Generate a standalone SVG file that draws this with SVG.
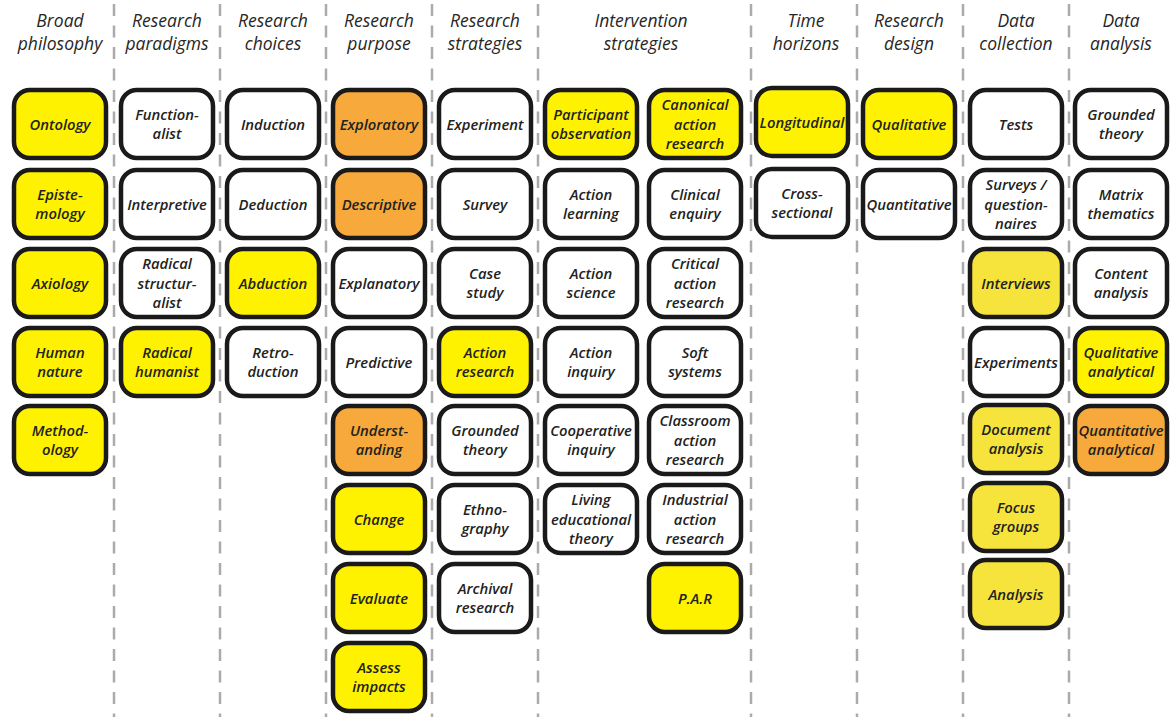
<svg xmlns="http://www.w3.org/2000/svg" width="1172" height="717" viewBox="0 0 1172 717">
  <style>
    .bg { fill: #ffffff; }
    .divider { stroke: #ababab; stroke-width: 2.5; stroke-dasharray: 12 9.5; fill: none; }
    .head { font-family: "Open Sans", "Liberation Sans", sans-serif; font-style: italic; font-weight: 500; font-size: 17.5px; fill: #262626; text-anchor: middle; }
    .node rect { stroke: #1a1a1a; stroke-width: 4.5; }
    .node text { font-family: "Open Sans", "Liberation Sans", sans-serif; font-style: italic; font-weight: 650; font-size: 14.8px; fill: #222222; text-anchor: middle; }
    .y rect { fill: #fff200; }
    .y2 rect { fill: #f6e43c; }
    .o rect { fill: #f7a93b; }
    .w rect { fill: #ffffff; }
  </style>

  <rect class="bg" x="0" y="0" width="1172" height="717"/>

  <!-- column dividers -->
  <g id="connectors">
    <line class="divider" x1="114" y1="4" x2="114" y2="717"/>
    <line class="divider" x1="220" y1="4" x2="220" y2="717"/>
    <line class="divider" x1="326" y1="4" x2="326" y2="717"/>
    <line class="divider" x1="432" y1="4" x2="432" y2="717"/>
    <line class="divider" x1="538" y1="4" x2="538" y2="717"/>
    <line class="divider" x1="751" y1="4" x2="751" y2="717"/>
    <line class="divider" x1="857" y1="4" x2="857" y2="717"/>
    <line class="divider" x1="963" y1="4" x2="963" y2="717"/>
    <line class="divider" x1="1069" y1="4" x2="1069" y2="717"/>
  </g>

  <!-- column headings -->
  <g id="headings">
    <text class="head" x="60" y="27">Broad<tspan x="60" y="50">philosophy</tspan></text>
    <text class="head" x="167" y="27">Research<tspan x="167" y="50">paradigms</tspan></text>
    <text class="head" x="273" y="27">Research<tspan x="273" y="50">choices</tspan></text>
    <text class="head" x="379" y="27">Research<tspan x="379" y="50">purpose</tspan></text>
    <text class="head" x="485" y="27">Research<tspan x="485" y="50">strategies</tspan></text>
    <text class="head" x="641" y="27">Intervention<tspan x="641" y="50">strategies</tspan></text>
    <text class="head" x="806" y="27">Time<tspan x="806" y="50">horizons</tspan></text>
    <text class="head" x="909" y="27">Research<tspan x="909" y="50">design</tspan></text>
    <text class="head" x="1016" y="27">Data<tspan x="1016" y="50">collection</tspan></text>
    <text class="head" x="1121" y="27">Data<tspan x="1121" y="50">analysis</tspan></text>
  </g>

  <!-- Broad philosophy -->
  <g id="n-ontology" class="node y"><rect x="14" y="90" width="92" height="68" rx="16"/><text x="60" y="129.5">Ontology</text></g>
  <g id="n-epistemology" class="node y"><rect x="14" y="170" width="92" height="68" rx="16"/><text x="60" y="200">Episte-<tspan x="60" y="219">mology</tspan></text></g>
  <g id="n-axiology" class="node y"><rect x="14" y="249" width="92" height="68" rx="16"/><text x="60" y="288.5">Axiology</text></g>
  <g id="n-human-nature" class="node y"><rect x="14" y="328" width="92" height="68" rx="16"/><text x="60" y="358">Human<tspan x="60" y="377">nature</tspan></text></g>
  <g id="n-methodology" class="node y"><rect x="14" y="406" width="92" height="68" rx="16"/><text x="60" y="436">Method-<tspan x="60" y="455">ology</tspan></text></g>

  <!-- Research paradigms -->
  <g id="n-functionalist" class="node w"><rect x="121" y="90" width="92" height="68" rx="16"/><text x="167" y="120">Function-<tspan x="167" y="139">alist</tspan></text></g>
  <g id="n-interpretive" class="node w"><rect x="121" y="170" width="92" height="68" rx="16"/><text x="167" y="209.5">Interpretive</text></g>
  <g id="n-radical-structuralist" class="node w"><rect x="121" y="249" width="92" height="68" rx="16"/><text x="167" y="269">Radical<tspan x="167" y="288.5">structur-</tspan><tspan x="167" y="308">alist</tspan></text></g>
  <g id="n-radical-humanist" class="node y"><rect x="121" y="328" width="92" height="68" rx="16"/><text x="167" y="358">Radical<tspan x="167" y="377">humanist</tspan></text></g>

  <!-- Research choices -->
  <g id="n-induction" class="node w"><rect x="227" y="90" width="92" height="68" rx="16"/><text x="273" y="129.5">Induction</text></g>
  <g id="n-deduction" class="node w"><rect x="227" y="170" width="92" height="68" rx="16"/><text x="273" y="209.5">Deduction</text></g>
  <g id="n-abduction" class="node y"><rect x="227" y="249" width="92" height="68" rx="16"/><text x="273" y="288.5">Abduction</text></g>
  <g id="n-retroduction" class="node w"><rect x="227" y="328" width="92" height="68" rx="16"/><text x="273" y="358">Retro-<tspan x="273" y="377">duction</tspan></text></g>

  <!-- Research purpose -->
  <g id="n-exploratory" class="node o"><rect x="333" y="90" width="92" height="68" rx="16"/><text x="379" y="129.5">Exploratory</text></g>
  <g id="n-descriptive" class="node o"><rect x="333" y="170" width="92" height="68" rx="16"/><text x="379" y="209.5">Descriptive</text></g>
  <g id="n-explanatory" class="node w"><rect x="333" y="249" width="92" height="68" rx="16"/><text x="379" y="288.5">Explanatory</text></g>
  <g id="n-predictive" class="node w"><rect x="333" y="328" width="92" height="68" rx="16"/><text x="379" y="367.5">Predictive</text></g>
  <g id="n-understanding" class="node o"><rect x="333" y="406" width="92" height="68" rx="16"/><text x="379" y="436">Underst-<tspan x="379" y="455">anding</tspan></text></g>
  <g id="n-change" class="node y"><rect x="333" y="485" width="92" height="68" rx="16"/><text x="379" y="524.5">Change</text></g>
  <g id="n-evaluate" class="node y"><rect x="333" y="564" width="92" height="68" rx="16"/><text x="379" y="603.5">Evaluate</text></g>
  <g id="n-assess-impacts" class="node y"><rect x="333" y="643" width="92" height="68" rx="16"/><text x="379" y="673">Assess<tspan x="379" y="692">impacts</tspan></text></g>

  <!-- Research strategies -->
  <g id="n-experiment" class="node w"><rect x="439" y="90" width="92" height="68" rx="16"/><text x="485" y="129.5">Experiment</text></g>
  <g id="n-survey" class="node w"><rect x="439" y="170" width="92" height="68" rx="16"/><text x="485" y="209.5">Survey</text></g>
  <g id="n-case-study" class="node w"><rect x="439" y="249" width="92" height="68" rx="16"/><text x="485" y="279">Case<tspan x="485" y="298">study</tspan></text></g>
  <g id="n-action-research" class="node y"><rect x="439" y="328" width="92" height="68" rx="16"/><text x="485" y="358">Action<tspan x="485" y="377">research</tspan></text></g>
  <g id="n-grounded-theory-rs" class="node w"><rect x="439" y="406" width="92" height="68" rx="16"/><text x="485" y="436">Grounded<tspan x="485" y="455">theory</tspan></text></g>
  <g id="n-ethnography" class="node w"><rect x="439" y="485" width="92" height="68" rx="16"/><text x="485" y="515">Ethno-<tspan x="485" y="534">graphy</tspan></text></g>
  <g id="n-archival-research" class="node w"><rect x="439" y="564" width="92" height="68" rx="16"/><text x="485" y="594">Archival<tspan x="485" y="613">research</tspan></text></g>

  <!-- Intervention strategies, first column -->
  <g id="n-participant-observation" class="node y"><rect x="545" y="90" width="92" height="68" rx="16"/><text x="591" y="120">Participant<tspan x="591" y="139">observation</tspan></text></g>
  <g id="n-action-learning" class="node w"><rect x="545" y="170" width="92" height="68" rx="16"/><text x="591" y="200">Action<tspan x="591" y="219">learning</tspan></text></g>
  <g id="n-action-science" class="node w"><rect x="545" y="249" width="92" height="68" rx="16"/><text x="591" y="279">Action<tspan x="591" y="298">science</tspan></text></g>
  <g id="n-action-inquiry" class="node w"><rect x="545" y="328" width="92" height="68" rx="16"/><text x="591" y="358">Action<tspan x="591" y="377">inquiry</tspan></text></g>
  <g id="n-cooperative-inquiry" class="node w"><rect x="545" y="406" width="92" height="68" rx="16"/><text x="591" y="436">Cooperative<tspan x="591" y="455">inquiry</tspan></text></g>
  <g id="n-living-educational-theory" class="node w"><rect x="545" y="485" width="92" height="68" rx="16"/><text x="591" y="505">Living<tspan x="591" y="524.5">educational</tspan><tspan x="591" y="544">theory</tspan></text></g>

  <!-- Intervention strategies, second column -->
  <g id="n-canonical-action-research" class="node y"><rect x="649" y="90" width="92" height="68" rx="16"/><text x="695" y="110">Canonical<tspan x="695" y="129.5">action</tspan><tspan x="695" y="149">research</tspan></text></g>
  <g id="n-clinical-enquiry" class="node w"><rect x="649" y="170" width="92" height="68" rx="16"/><text x="695" y="200">Clinical<tspan x="695" y="219">enquiry</tspan></text></g>
  <g id="n-critical-action-research" class="node w"><rect x="649" y="249" width="92" height="68" rx="16"/><text x="695" y="269">Critical<tspan x="695" y="288.5">action</tspan><tspan x="695" y="308">research</tspan></text></g>
  <g id="n-soft-systems" class="node w"><rect x="649" y="328" width="92" height="68" rx="16"/><text x="695" y="358">Soft<tspan x="695" y="377">systems</tspan></text></g>
  <g id="n-classroom-action-research" class="node w"><rect x="649" y="406" width="92" height="68" rx="16"/><text x="695" y="426">Classroom<tspan x="695" y="445.5">action</tspan><tspan x="695" y="465">research</tspan></text></g>
  <g id="n-industrial-action-research" class="node w"><rect x="649" y="485" width="92" height="68" rx="16"/><text x="695" y="505">Industrial<tspan x="695" y="524.5">action</tspan><tspan x="695" y="544">research</tspan></text></g>
  <g id="n-par" class="node y"><rect x="649" y="564" width="92" height="68" rx="16"/><text x="695" y="603.5">P.A.R</text></g>

  <!-- Time horizons -->
  <g id="n-longitudinal" class="node y"><rect x="756" y="88" width="92" height="68" rx="16"/><text x="802" y="127.5">Longitudinal</text></g>
  <g id="n-cross-sectional" class="node w"><rect x="756" y="169" width="92" height="68" rx="16"/><text x="802" y="199">Cross-<tspan x="802" y="218">sectional</tspan></text></g>

  <!-- Research design -->
  <g id="n-qualitative" class="node y"><rect x="863" y="90" width="92" height="68" rx="16"/><text x="909" y="129.5">Qualitative</text></g>
  <g id="n-quantitative" class="node w"><rect x="863" y="170" width="92" height="68" rx="16"/><text x="909" y="209.5">Quantitative</text></g>

  <!-- Data collection -->
  <g id="n-tests" class="node w"><rect x="970" y="90" width="92" height="68" rx="16"/><text x="1016" y="129.5">Tests</text></g>
  <g id="n-surveys-questionnaires" class="node w"><rect x="970" y="170" width="92" height="68" rx="16"/><text x="1016" y="190">Surveys /<tspan x="1016" y="209.5">question-</tspan><tspan x="1016" y="229">naires</tspan></text></g>
  <g id="n-interviews" class="node y2"><rect x="970" y="249" width="92" height="68" rx="16"/><text x="1016" y="288.5">Interviews</text></g>
  <g id="n-experiments" class="node w"><rect x="970" y="328" width="92" height="68" rx="16"/><text x="1016" y="367.5">Experiments</text></g>
  <g id="n-document-analysis" class="node y2"><rect x="970" y="405" width="92" height="68" rx="16"/><text x="1016" y="435">Document<tspan x="1016" y="454">analysis</tspan></text></g>
  <g id="n-focus-groups" class="node y2"><rect x="970" y="483" width="92" height="68" rx="16"/><text x="1016" y="513">Focus<tspan x="1016" y="532">groups</tspan></text></g>
  <g id="n-analysis" class="node y2"><rect x="970" y="560" width="92" height="68" rx="16"/><text x="1016" y="599.5">Analysis</text></g>

  <!-- Data analysis -->
  <g id="n-grounded-theory-da" class="node w"><rect x="1075" y="90" width="92" height="68" rx="16"/><text x="1121" y="120">Grounded<tspan x="1121" y="139">theory</tspan></text></g>
  <g id="n-matrix-thematics" class="node w"><rect x="1075" y="170" width="92" height="68" rx="16"/><text x="1121" y="200">Matrix<tspan x="1121" y="219">thematics</tspan></text></g>
  <g id="n-content-analysis" class="node w"><rect x="1075" y="249" width="92" height="68" rx="16"/><text x="1121" y="279">Content<tspan x="1121" y="298">analysis</tspan></text></g>
  <g id="n-qualitative-analytical" class="node y"><rect x="1075" y="328" width="92" height="68" rx="16"/><text x="1121" y="358">Qualitative<tspan x="1121" y="377">analytical</tspan></text></g>
  <g id="n-quantitative-analytical" class="node o"><rect x="1075" y="406" width="92" height="68" rx="16"/><text x="1121" y="436">Quantitative<tspan x="1121" y="455">analytical</tspan></text></g>
</svg>
